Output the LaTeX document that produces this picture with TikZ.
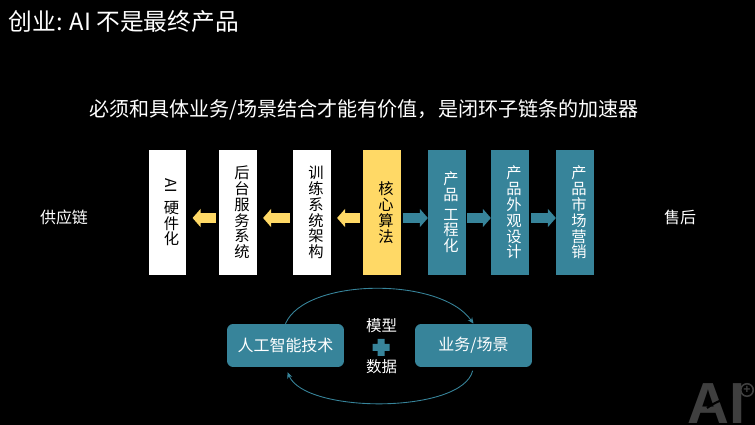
\documentclass[tikz,border=0pt]{standalone}
\usepackage{fontspec}
\usepackage{tikz}
\usetikzlibrary{arrows.meta}
\setmainfont{Noto Sans CJK SC}
\newfontfamily\logofont{Liberation Sans}[Scale=1]
\definecolor{ccTeal}{HTML}{37849A}
\definecolor{ccYellow}{HTML}{FFD966}
\definecolor{ccLogo}{HTML}{3F3F3F}
\newcommand{\vlabel}[1]{\kern4.5pt\parbox{1.2em}{\centering\lineskiplimit=-20pt\baselineskip=9pt #1}}

\begin{document}
\begin{tikzpicture}[x=0.02cm,y=-0.02cm]
    \tikzstyle{chainbox}=[draw=none, minimum width=0.75cm, minimum height=2.5cm, inner sep=0pt,
      font=\fontsize{8.7}{9}\selectfont]
    \tikzstyle{sidetext}=[text=white, font=\fontsize{9.1}{11}\selectfont]
    \tikzstyle{loopbox}=[draw=none, fill=ccTeal, rounded corners=3.5pt, minimum width=2.34cm,
      minimum height=0.86cm, text=white, font=\fontsize{9.1}{11}\selectfont]
    \tikzstyle{yellowarrow}=[draw=ccYellow, line width=5.2pt, -{Triangle[length=4.6pt,width=10.2pt]}]
    \tikzstyle{tealarrow}=[draw=ccTeal, line width=5.2pt, -{Triangle[length=4.6pt,width=10.2pt]}]
    \tikzstyle{looparrow}=[draw=ccTeal, line width=0.5pt, -{Stealth[length=3.5pt,width=3pt]}]

    \fill[black] (0,0) rectangle (755,425);
    \useasboundingbox (0,0) rectangle (755,425);

    \node[anchor=west, text=white, font=\fontsize{13.5}{16}\selectfont] (title) at (2.5,22) {创业: AI 不是最终产品};
    \node[text=white, font=\fontsize{11.4}{14}\selectfont] (subtitle) at (364,110) {必须和具体业务/场景结合才能有价值，是闭环子链条的加速器};

    \node[sidetext] (supply) at (64,217) {供应链};
    \node[sidetext] (after) at (680,217) {售后};

    \node[chainbox, fill=white, text=black] (c1) at (167.5,212.5) {\vlabel{\rotatebox[origin=c]{-90}{AI}\\[3.5pt]硬\\件\\化}};
    \node[chainbox, fill=white, text=black] (c2) at (238,212.5) {\vlabel{后\\台\\服\\务\\系\\统}};
    \node[chainbox, fill=white, text=black] (c3) at (312,212.5) {\vlabel{训\\练\\系\\统\\架\\构}};
    \node[chainbox, fill=ccYellow, text=black] (c4) at (382,212.5) {\vlabel{核\\心\\算\\法}};
    \node[chainbox, fill=ccTeal, text=white] (c5) at (447,212.5) {\vlabel{产\\品\\[2pt]工\\程\\化}};
    \node[chainbox, fill=ccTeal, text=white] (c6) at (510,212.5) {\vlabel{产\\品\\外\\观\\设\\计}};
    \node[chainbox, fill=ccTeal, text=white] (c7) at (575,212.5) {\vlabel{产\\品\\市\\场\\营\\销}};

    \draw[yellowarrow, shorten <=1.7pt, shorten >=3.4pt] ([yshift=-0.11cm]c2.west) -- ([yshift=-0.11cm]c1.east);
    \draw[yellowarrow, shorten <=1.7pt, shorten >=3.4pt] ([yshift=-0.11cm]c3.west) -- ([yshift=-0.11cm]c2.east);
    \draw[yellowarrow, shorten <=1.7pt, shorten >=3.4pt] ([yshift=-0.11cm]c4.west) -- ([yshift=-0.11cm]c3.east);
    \draw[tealarrow, shorten <=1.2pt] ([yshift=-0.11cm]c4.east) -- ([yshift=-0.11cm]c5.west);
    \draw[tealarrow, shorten <=0.6pt] ([yshift=-0.11cm]c5.east) -- ([yshift=-0.11cm]c6.west);
    \draw[tealarrow, shorten <=1.2pt] ([yshift=-0.11cm]c6.east) -- ([yshift=-0.11cm]c7.west);

    \node[loopbox] (tech) at (285.5,345.5) {人工智能技术};
    \node[loopbox] (scene) at (473.5,345.5) {业务/场景};
    \node[sidetext, font=\fontsize{8.8}{11}\selectfont] (model) at (381.5,326) {模型};
    \node[sidetext, font=\fontsize{8.8}{11}\selectfont] (data) at (381.5,367) {数据};
    \fill[ccTeal] (377.5,339) rectangle (384.5,356) (372.5,344) rectangle (389.5,351);

    \draw[looparrow] (tech.north) .. controls (305,278) and (440,276) .. (scene.north);
    \draw[looparrow, shorten <=2pt, shorten >=3pt] (scene.south) .. controls (462,414) and (305,414) .. (tech.south);

    \node[anchor=base west, inner sep=0pt, text depth=0pt, text=ccLogo, font=\logofont\bfseries\fontsize{33}{33}\selectfont] (logo) at (687,424) {AI};
    \draw[black, line width=1.2pt] (707,408) .. controls (715,402) and (724,399) .. (732,397);
    \node[circle, draw=ccLogo, fill=black, line width=0.9pt, minimum size=0.25cm, inner sep=0pt, text=ccLogo,
      font=\logofont\bfseries\fontsize{7}{7}\selectfont] (badge) at (747,390) {+};
\end{tikzpicture}
\end{document}
